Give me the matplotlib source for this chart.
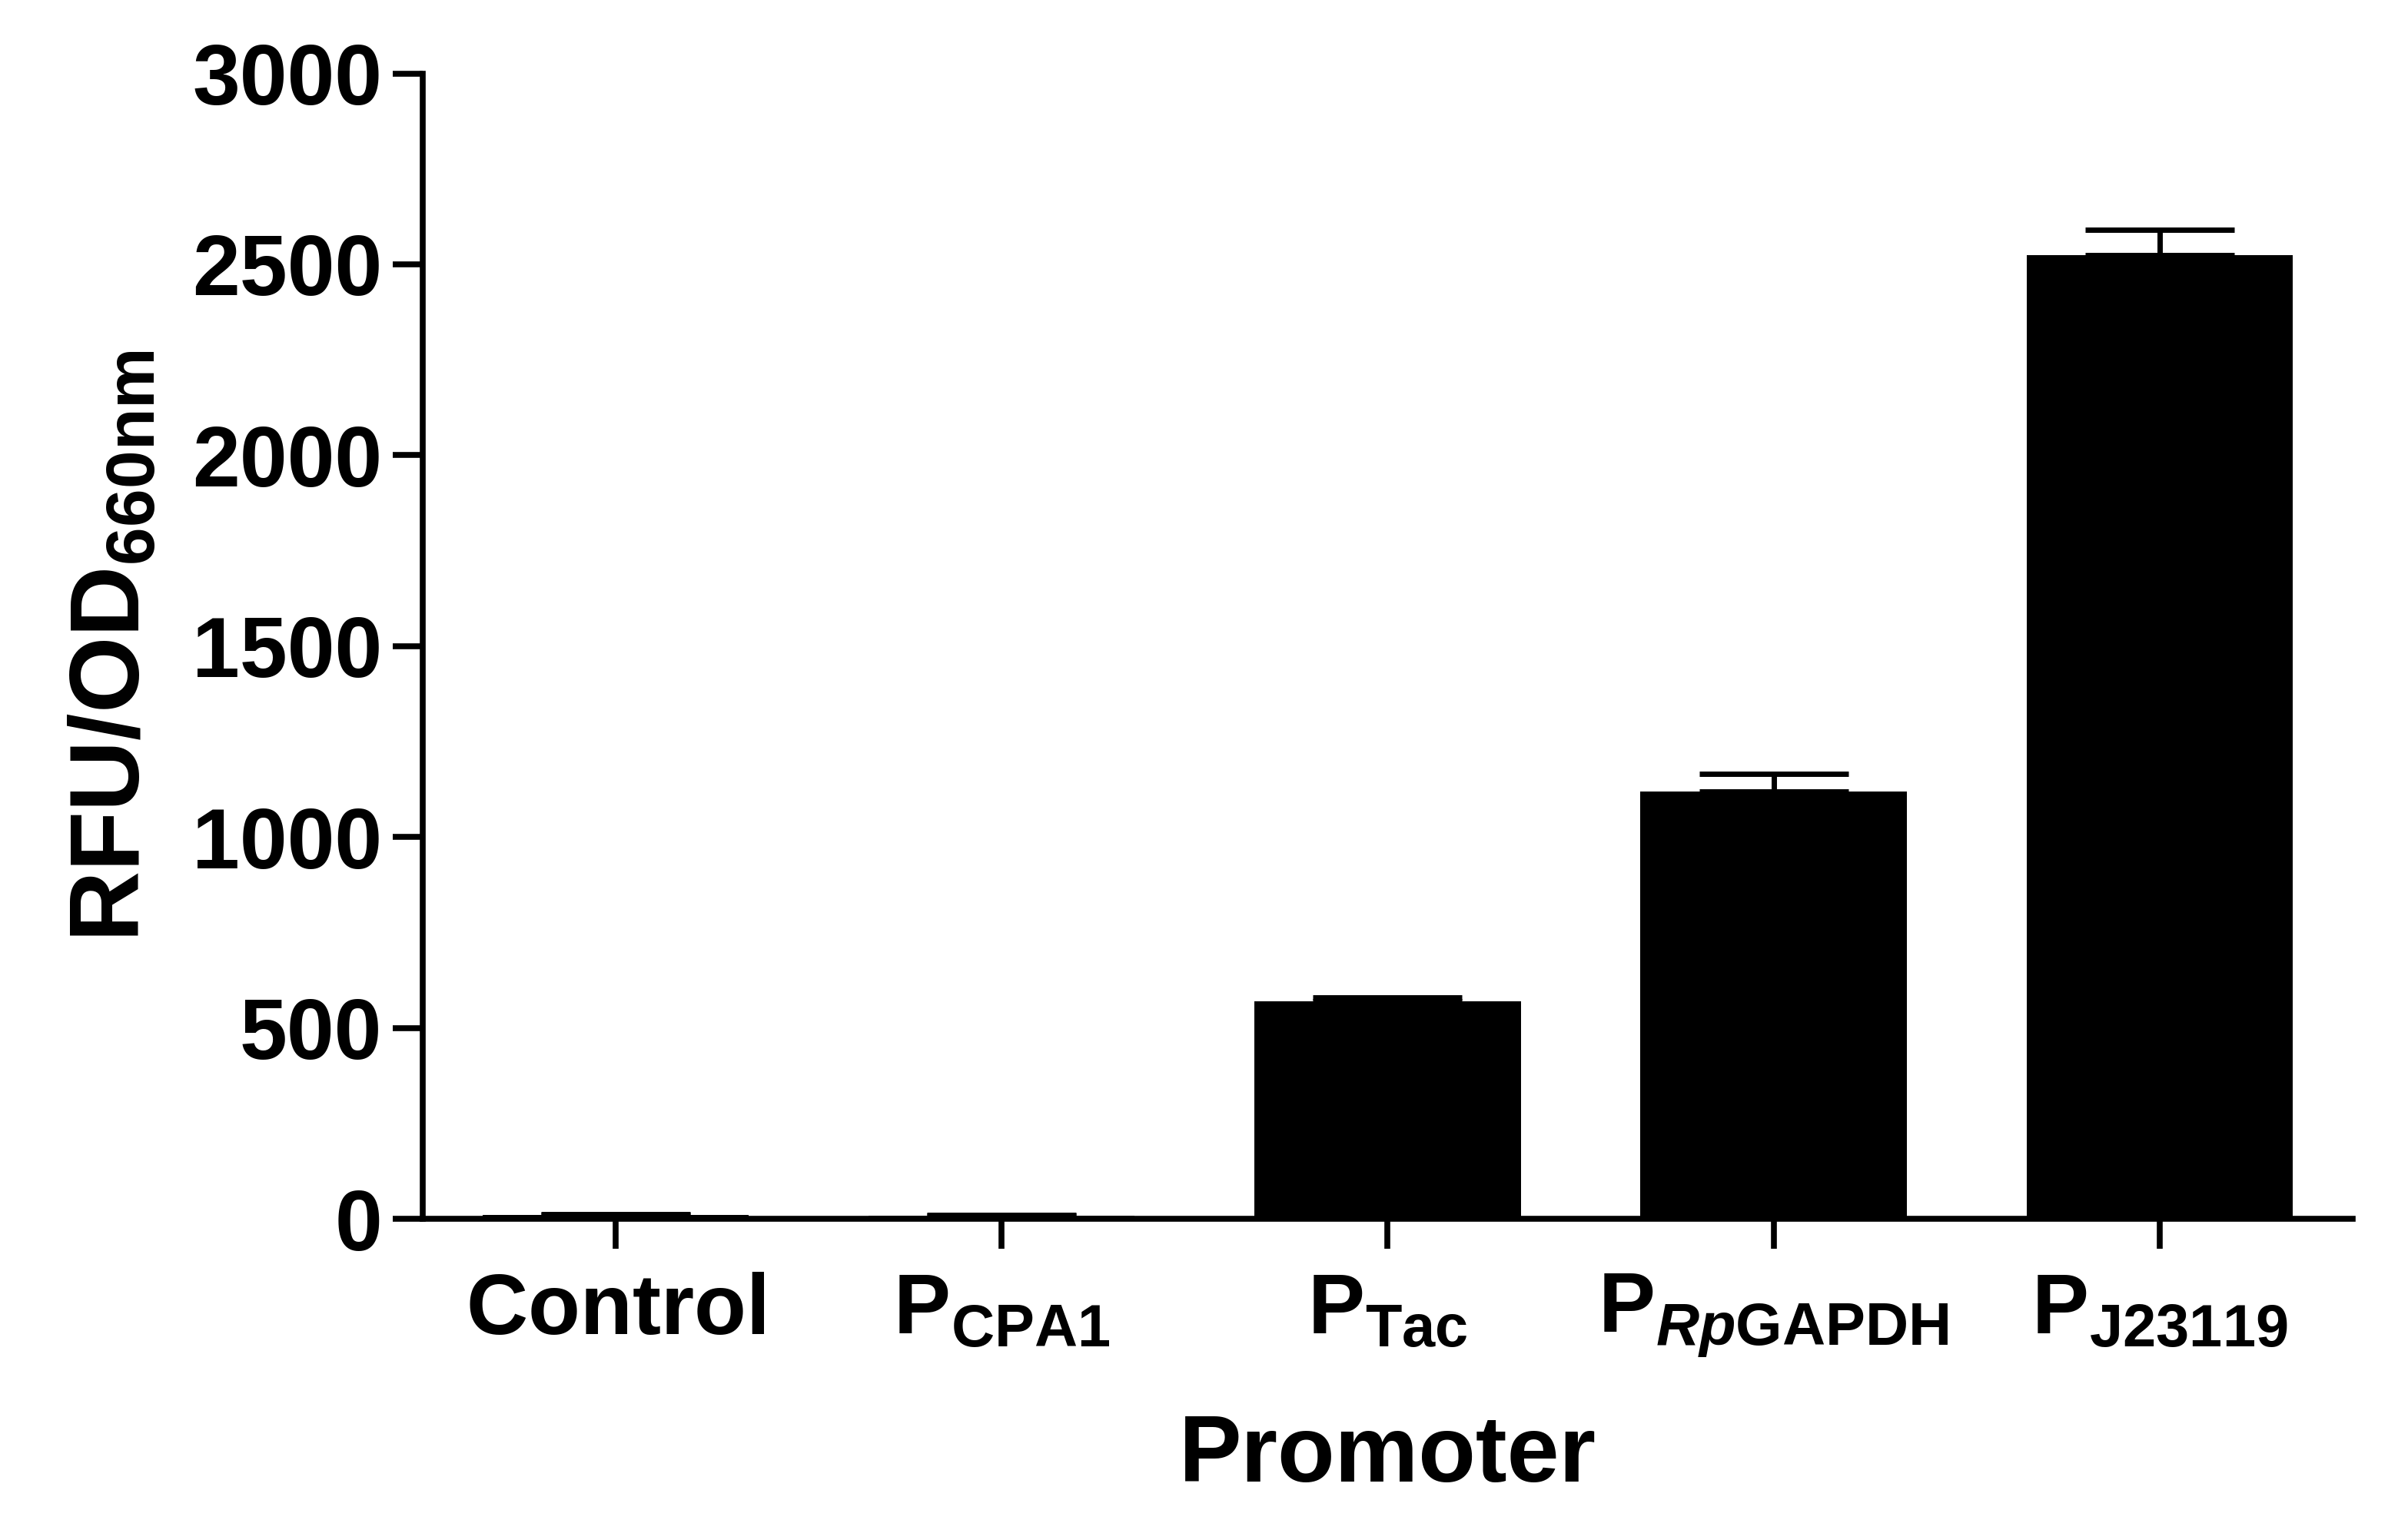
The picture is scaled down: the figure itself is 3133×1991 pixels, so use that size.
import matplotlib
matplotlib.use("Agg")
import matplotlib.pyplot as plt

categories = [r'$\mathrm{Control}$', r'$\mathrm{P}_{\mathrm{CPA1}}$', r'$\mathrm{P}_{\mathrm{Tac}}$',
              r'$\mathrm{P}_{\mathit{Rp}\mathrm{GAPDH}}$', r'$\mathrm{P}_{\mathrm{J23119}}$']
values = [10, 8, 570, 1120, 2525]
errors = [3, 3, 10, 45, 65]

plt.rcParams['font.family'] = 'Liberation Sans'
plt.rcParams['font.weight'] = 'bold'
plt.rcParams['mathtext.fontset'] = 'custom'
plt.rcParams['mathtext.rm'] = 'Liberation Sans:bold'
plt.rcParams['mathtext.bf'] = 'Liberation Sans:bold'
plt.rcParams['mathtext.it'] = 'Liberation Sans:bold:italic'

fig = plt.figure(figsize=(31.33, 19.91), dpi=100)
ax = fig.add_axes([0.1755, 0.2034, 0.8015, 0.7486])
x = range(len(values))
ax.bar(x, values, width=0.69, color='black', zorder=2)
ax.errorbar(x, values, yerr=[[0]*len(errors), errors], fmt='none', ecolor='black',
            elinewidth=5, capsize=70, capthick=5, zorder=1)
ax.set_xlim(-0.5, 4.5)
ax.set_ylim(0, 3000)
ax.set_yticks(range(0, 3001, 500))
ax.set_xticks(list(x))
ax.set_xticklabels(categories)
for s in ['top', 'right']:
    ax.spines[s].set_visible(False)
for s in ['left', 'bottom']:
    ax.spines[s].set_linewidth(5.5)
ax.tick_params(axis='y', width=5.5, length=28, labelsize=80, pad=10)
ax.tick_params(axis='x', width=5.5, length=28, labelsize=80, pad=22)
for t in ax.get_yticklabels():
    t.set_fontweight('bold')
ax.set_xlabel('Promoter', fontsize=88, fontweight='bold', labelpad=50)
ax.set_ylabel(r'$\mathrm{RFU/OD}_{\mathrm{660nm}}$', fontsize=92, labelpad=30)
fig.savefig('out.png', dpi=100)
